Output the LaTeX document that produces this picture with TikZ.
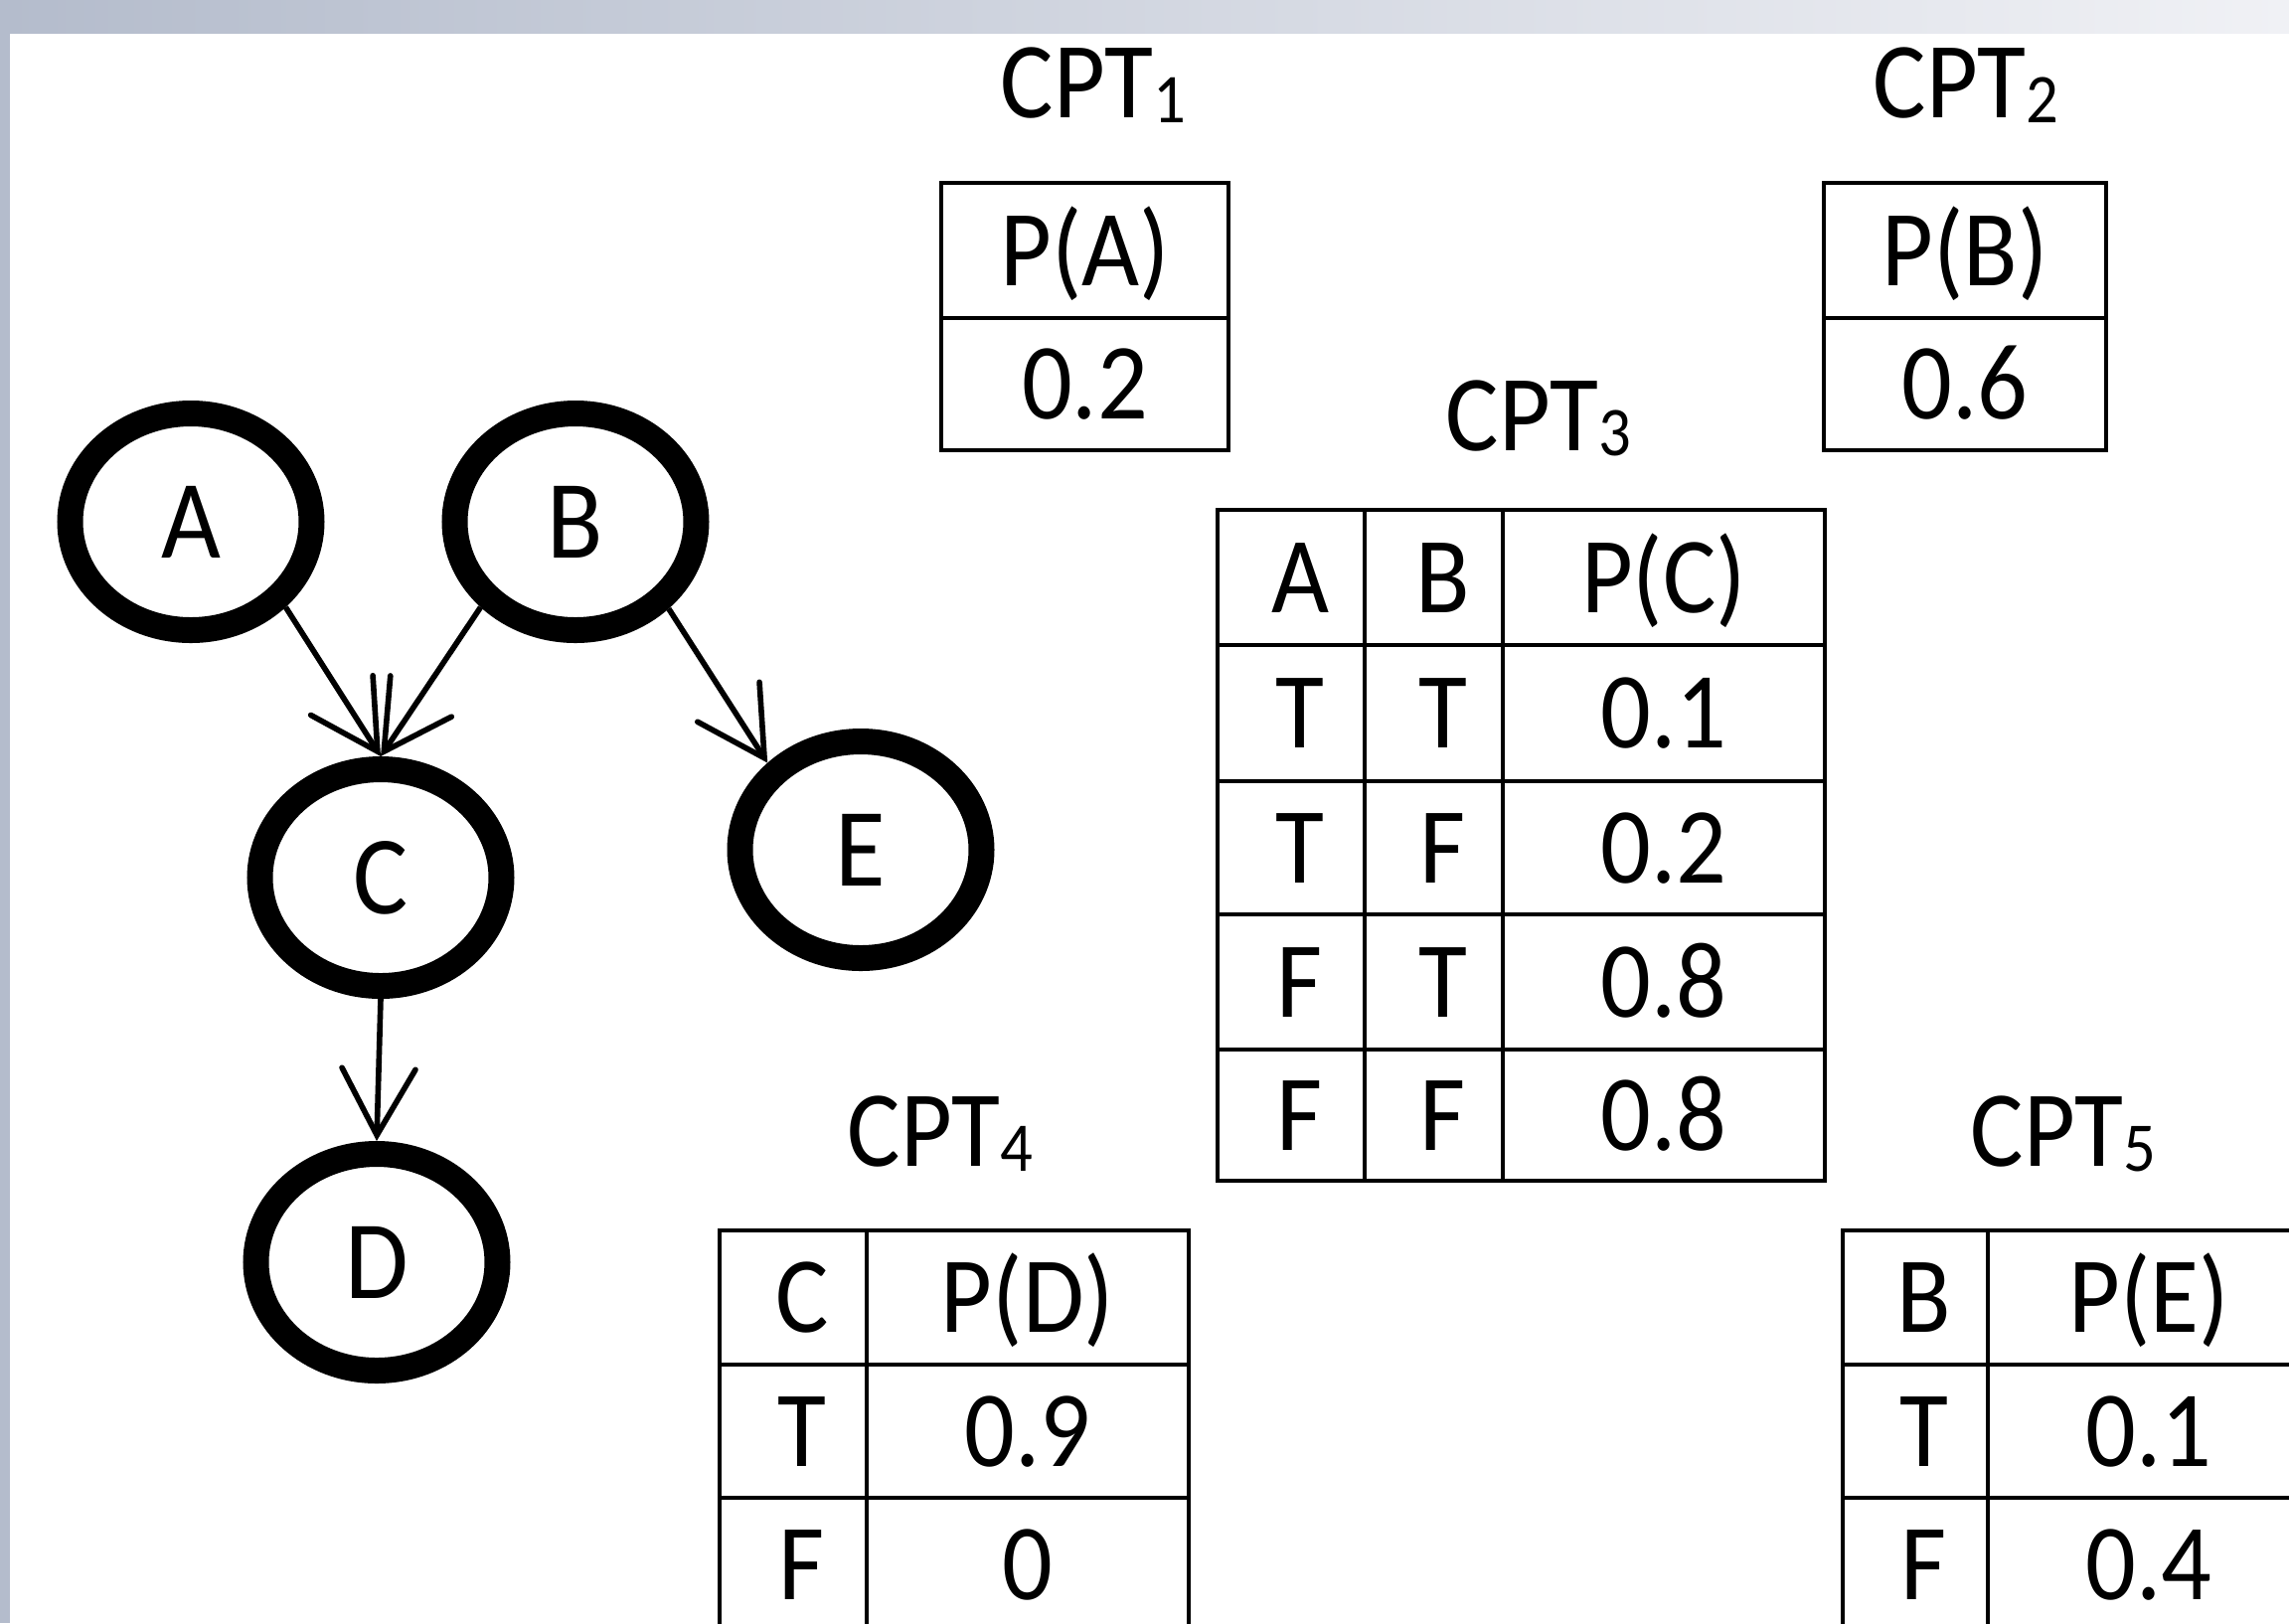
\documentclass[tikz,border=0pt]{standalone}
\usepackage{fontspec}
\setmainfont{Carlito}[FakeStretch=0.92]
\usetikzlibrary{arrows.meta,shapes.geometric}
\definecolor{bandL}{RGB}{180,188,204}
\definecolor{bandR}{RGB}{240,241,245}
\newcommand\cptlabel[1]{CPT\raisebox{-0.05cm}{\fontsize{20}{20}\selectfont #1}}
\tikzset{
  bnode/.style={ellipse, draw, line width=0.26cm, minimum width=2.43cm, minimum height=2.18cm, inner sep=0pt, font=\fontsize{32}{32}\selectfont},
  celltext/.style={anchor=base, inner sep=0pt, font=\fontsize{31}{31}\selectfont},
  titletext/.style={anchor=base, inner sep=0pt, font=\fontsize{31}{31}\selectfont},
  gridline/.style={line width=1.1pt},
  netarrow/.style={line width=1.6pt, -{Straight Barb[length=0.67cm,width=0.74cm,line cap=round]}},
}
\begin{document}
\begin{tikzpicture}
\useasboundingbox (0,0) rectangle (23.03,-16.33);
\clip (0,0) rectangle (23.03,-16.33);
\fill[white] (0,0) rectangle (23.03,-16.33);
\shade[left color=bandL, right color=bandR] (0,0) rectangle (23.03,-0.33);
\fill[bandL] (0,0) rectangle (0.10,-16.33);

% Bayesian network
\node[bnode] (A) at (1.92,-5.25) {A};
\node[bnode] (B) at (5.79,-5.25) {B};
\node[bnode] (C) at (3.83,-8.83) {C};
\node[bnode] (E) at (8.66,-8.55) {E};
\node[bnode] (D) at (3.79,-12.70) {D};
\draw[netarrow] (A.-42) -- (C.north);
\draw[netarrow] (B.-138) -- (C.north);
\draw[netarrow] (B.-43) -- (E.137);
\draw[netarrow] (C.south) -- (D.north);

% CPT1
\node[titletext] (t1) at (11.00,-1.18) {\cptlabel{1}};
\draw[gridline] (9.47,-1.84) rectangle (12.36,-4.53);
\draw[gridline] (9.47,-3.20) -- (12.36,-3.20);
\node[celltext] (t1h) at (10.915,-2.87) {P(A)};
\node[celltext] (t1v) at (10.915,-4.21) {0.2};

% CPT2
\node[titletext] (t2) at (19.78,-1.18) {\cptlabel{2}};
\draw[gridline] (18.35,-1.84) rectangle (21.19,-4.53);
\draw[gridline] (18.35,-3.20) -- (21.19,-3.20);
\node[celltext] (t2h) at (19.77,-2.87) {P(B)};
\node[celltext] (t2v) at (19.77,-4.21) {0.6};

% CPT3
\node[titletext] (t3) at (15.48,-4.53) {\cptlabel{3}};
\draw[gridline] (12.25,-5.13) rectangle (18.36,-11.88);
\draw[gridline] (12.25,-6.49) -- (18.36,-6.49);
\draw[gridline] (12.25,-7.86) -- (18.36,-7.86);
\draw[gridline] (12.25,-9.20) -- (18.36,-9.20);
\draw[gridline] (12.25,-10.56) -- (18.36,-10.56);
\draw[gridline] (13.73,-5.13) -- (13.73,-11.88);
\draw[gridline] (15.12,-5.13) -- (15.12,-11.88);
\node[celltext] (t3a0) at (13.08,-6.16) {A};
\node[celltext] (t3b0) at (14.52,-6.16) {B};
\node[celltext] (t3p0) at (16.74,-6.16) {P(C)};
\node[celltext] (t3a1) at (13.08,-7.52) {T};
\node[celltext] (t3b1) at (14.52,-7.52) {T};
\node[celltext] (t3p1) at (16.74,-7.52) {0.1};
\node[celltext] (t3a2) at (13.08,-8.88) {T};
\node[celltext] (t3b2) at (14.52,-8.88) {F};
\node[celltext] (t3p2) at (16.74,-8.88) {0.2};
\node[celltext] (t3a3) at (13.08,-10.23) {F};
\node[celltext] (t3b3) at (14.52,-10.23) {T};
\node[celltext] (t3p3) at (16.74,-10.23) {0.8};
\node[celltext] (t3a4) at (13.08,-11.57) {F};
\node[celltext] (t3b4) at (14.52,-11.57) {F};
\node[celltext] (t3p4) at (16.74,-11.57) {0.8};

% CPT4
\node[titletext] (t4) at (9.46,-11.73) {\cptlabel{4}};
\draw[gridline] (7.24,-12.38) rectangle (11.96,-17.0);
\draw[gridline] (7.24,-13.73) -- (11.96,-13.73);
\draw[gridline] (7.24,-15.07) -- (11.96,-15.07);
\draw[gridline] (8.72,-12.38) -- (8.72,-17.0);
\node[celltext] (t4c0) at (8.07,-13.40) {C};
\node[celltext] (t4p0) at (10.34,-13.40) {P(D)};
\node[celltext] (t4c1) at (8.07,-14.75) {T};
\node[celltext] (t4p1) at (10.34,-14.75) {0.9};
\node[celltext] (t4c2) at (8.07,-16.09) {F};
\node[celltext] (t4p2) at (10.34,-16.09) {0};

% CPT5
\node[titletext] (t5) at (20.76,-11.73) {\cptlabel{5}};
\draw[gridline] (18.54,-12.38) rectangle (23.24,-17.0);
\draw[gridline] (18.54,-13.73) -- (23.24,-13.73);
\draw[gridline] (18.54,-15.07) -- (23.24,-15.07);
\draw[gridline] (20.00,-12.38) -- (20.00,-17.0);
\node[celltext] (t5c0) at (19.36,-13.40) {B};
\node[celltext] (t5p0) at (21.62,-13.40) {P(E)};
\node[celltext] (t5c1) at (19.36,-14.75) {T};
\node[celltext] (t5p1) at (21.62,-14.75) {0.1};
\node[celltext] (t5c2) at (19.36,-16.09) {F};
\node[celltext] (t5p2) at (21.62,-16.09) {0.4};
\end{tikzpicture}
\end{document}
